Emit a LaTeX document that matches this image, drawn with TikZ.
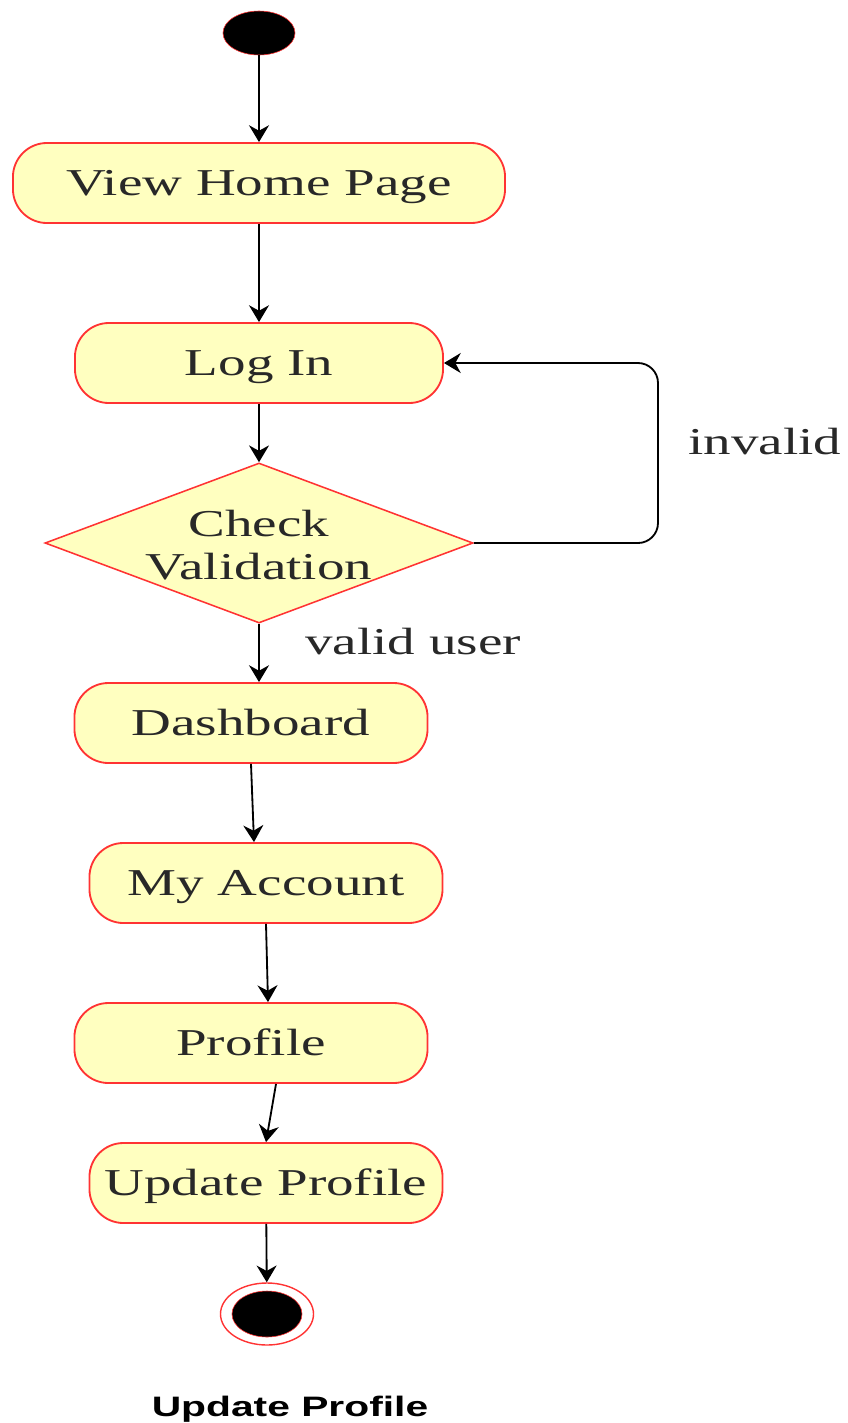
\documentclass[tikz,border=0pt]{standalone}
\usepackage{fontspec}
\setmainfont{Liberation Serif}
\setsansfont{Liberation Sans}
\usetikzlibrary{shapes.geometric, positioning, arrows.meta, calc}

\definecolor{actfill}{RGB}{255,255,192}
\definecolor{actline}{RGB}{255,51,51}
\definecolor{txtgray}{RGB}{40,40,40}
\newcommand{\widetxt}[1]{\scalebox{1.45}[1]{#1}}

\begin{document}
\begin{tikzpicture}[
    x=0.025cm, y=-0.025cm,
    act/.style={rectangle, rounded corners=0.85cm, draw=actline, line width=1.3pt, fill=actfill,
        minimum width=8.825cm, minimum height=2cm, inner sep=2pt, text=txtgray,
        text height=0.7cm, text depth=0.1cm},
    dec/.style={diamond, draw=actline, line width=1.1pt, fill=actfill,
        minimum width=10.7cm, minimum height=4cm, inner sep=0pt},
    arr/.style={-{Stealth[length=0.42cm, width=0.5cm]}, line width=1.3pt},
    lbl/.style={text=txtgray, inner sep=0pt},
    font=\fontsize{27}{31}\selectfont
]
    \useasboundingbox (0,0) rectangle (848,1423);

    % --- start / end ---
    \node[ellipse, fill=black, draw=actline, thin, minimum width=1.8cm, minimum height=1.1cm, inner sep=0pt] (start) at (259,33) {};
    \node[ellipse, fill=white, draw=actline, line width=1pt, minimum width=2.325cm, minimum height=1.55cm, inner sep=0pt] (stop) at (267,1314) {};
    \node[ellipse, fill=black, draw=actline, thin, minimum width=1.75cm, minimum height=1.15cm, inner sep=0pt] (stopin) at (267,1314) {};

    % --- activities ---
    \node[act, minimum width=12.3cm] (home) at (259,183) {\widetxt{View Home Page}};
    \node[act, minimum width=9.2cm] (login) at (259,363) {\widetxt{Log In}};
    \node[dec] (chk) at (259,543) {};
    \node[lbl, align=center] (chktxt) at (259,545) {\widetxt{Check}\\\widetxt{Validation}};
    \node[act] (dash) at (251,723) {\widetxt{Dashboard}};
    \node[act] (acct) at (266,883) {\widetxt{My Account}};
    \node[act] (prof) at (251,1043) {\widetxt{Profile}};
    \node[act] (upd) at (266,1183) {\widetxt{Update Profile}};

    % --- flow ---
    \draw[arr] (start) -- (home);
    \draw[arr] (home) -- (login);
    \draw[arr] (login) -- (chk);
    \draw[arr] (chk.south) -- (chk.south |- dash.north);
    \draw[arr] (dash.south) -- ([xshift=-0.3cm]acct.north);
    \draw[arr] (acct.south) -- ([xshift=0.425cm]prof.north);
    \draw[arr] ([xshift=0.625cm]prof.south) -- (upd.north);
    \draw[arr] (upd) -- (stop);

    % loop back on invalid
    \coordinate (loopc) at (658,543);
    \draw[arr, rounded corners=0.5cm] (chk.east) -- (loopc) |- (login.east);

    % --- guards ---
    \node[lbl] (inv) at (765,442) {\widetxt{invalid}};
    \node[lbl] (valid) at (413,642) {\widetxt{valid user}};

    % --- caption ---
    \node[lbl, text=black, anchor=base, font=\sffamily\bfseries\fontsize{20}{22}\selectfont] (cap) at (290,1416) {\widetxt{Update Profile}};
\end{tikzpicture}
\end{document}
